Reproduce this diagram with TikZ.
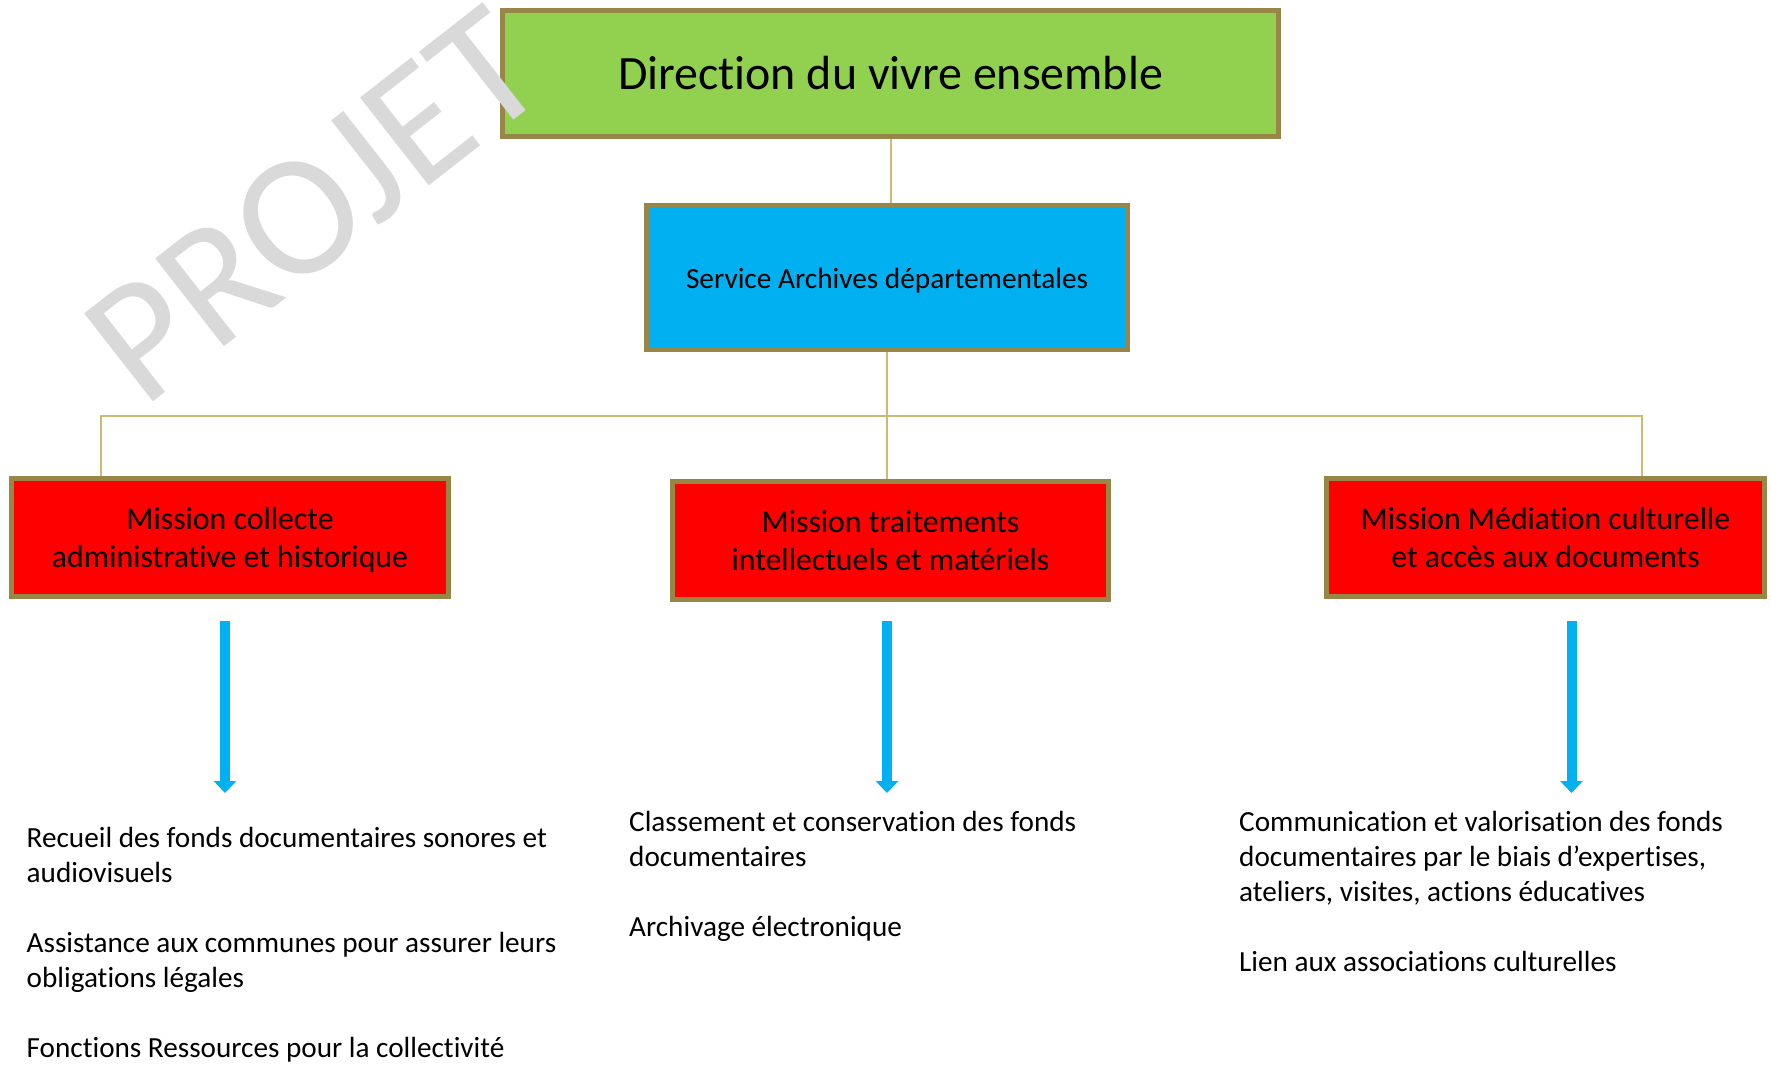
\documentclass[tikz,border=0pt]{standalone}
\usepackage{fontspec}
\setmainfont[Ligatures={NoCommon}]{Carlito}
\usetikzlibrary{arrows.meta,backgrounds}
\definecolor{bordc}{RGB}{152,134,73}
\definecolor{linkc}{RGB}{206,186,115}
\definecolor{grn}{RGB}{146,208,80}
\definecolor{blu}{RGB}{0,176,240}
\definecolor{redc}{RGB}{255,0,0}
\definecolor{wm}{RGB}{217,217,217}
\newcommand{\topstrut}{\rule{0pt}{29.5pt}}
\newcommand{\botstrut}{\rule[-8pt]{0pt}{8pt}}
\begin{document}
\begin{tikzpicture}[x=1pt,y=-1pt,
  box/.style={draw=bordc, line width=5pt, inner sep=0pt, align=center},
  link/.style={draw=linkc, line width=2pt},
  flow/.style={draw=blu, line width=10pt, -{Triangle[width=22pt,length=12pt]}},
  para/.style={anchor=base west, inner sep=0pt, text width=640pt,
    execute at begin node={\raggedright\spaceskip=0.226em plus 0.05em minus 0.02em\relax},
    font=\fontsize{29.2}{35}\selectfont},
  redbox/.style={box, fill=redc, minimum width=437pt, minimum height=118pt,
    font=\fontsize{31.8}{38.5}\selectfont}]
\useasboundingbox (0,0) rectangle (1771,1066);

% boxes
\node[box, fill=grn, minimum width=776pt, minimum height=126pt,
  font=\fontsize{47.9}{57}\selectfont] (dir) at (890.5,73.5) {Direction du vivre ensemble};
\node[box, fill=blu, minimum width=481pt, minimum height=144pt,
  text height=24pt, text depth=2.6pt,
  font=\fontsize{29.3}{35}\selectfont] (serv) at (887,277.5) {Service Archives départementales};
\node[redbox] (m1) at (230,537.5) {\topstrut Mission collecte\\administrative et historique\botstrut};
\node[redbox, minimum width=436pt] (m2) at (890.5,540.5) {\topstrut Mission traitements\\intellectuels et matériels\botstrut};
\node[redbox, minimum width=438pt] (m3) at (1545.5,537.5) {\topstrut Mission Médiation culturelle\\et accès aux documents\botstrut};

% tree connectors
\coordinate (busL) at (100.5,416);
\coordinate (busR) at (1642,416);
\begin{scope}[on background layer]
\draw[link] (dir.south) -- (dir.south |- serv.north);
\draw[link] (serv.south) -- (serv.south |- m2.north);
\draw[link] (m1.north -| busL) -- (busL) -- (busR) -- (m3.north -| busR);
\end{scope}

% flow arrows
\coordinate (a1s) at (225,621);   \coordinate (a1e) at (225,793);
\coordinate (a2s) at (887,621);   \coordinate (a2e) at (887,793);
\coordinate (a3s) at (1571.5,621); \coordinate (a3e) at (1571.5,793);
\draw[flow] (a1s) -- (a1e);
\draw[flow] (a2s) -- (a2e);
\draw[flow] (a3s) -- (a3e);

% lists
\node[para] (t1) at (26.5,847) {Recueil des fonds documentaires sonores et\\audiovisuels\\[35pt]Assistance aux communes pour assurer leurs\\obligations légales\\[35pt]Fonctions Ressources pour la collectivité};
\node[para] (t2) at (629,831) {Classement et conservation des fonds\\documentaires\\[35pt]Archivage électronique};
\node[para] (t3) at (1239,831) {Communication et valorisation des fonds\\documentaires par le biais d’expertises,\\ateliers, visites, actions éducatives\\[35pt]Lien aux associations culturelles};

% watermark
\node[rotate=38, anchor=base west, inner sep=0pt, text=wm,
  font=\fontsize{174}{174}\selectfont] (wmark) at (143,410) {PROJET};
\end{tikzpicture}
\end{document}
